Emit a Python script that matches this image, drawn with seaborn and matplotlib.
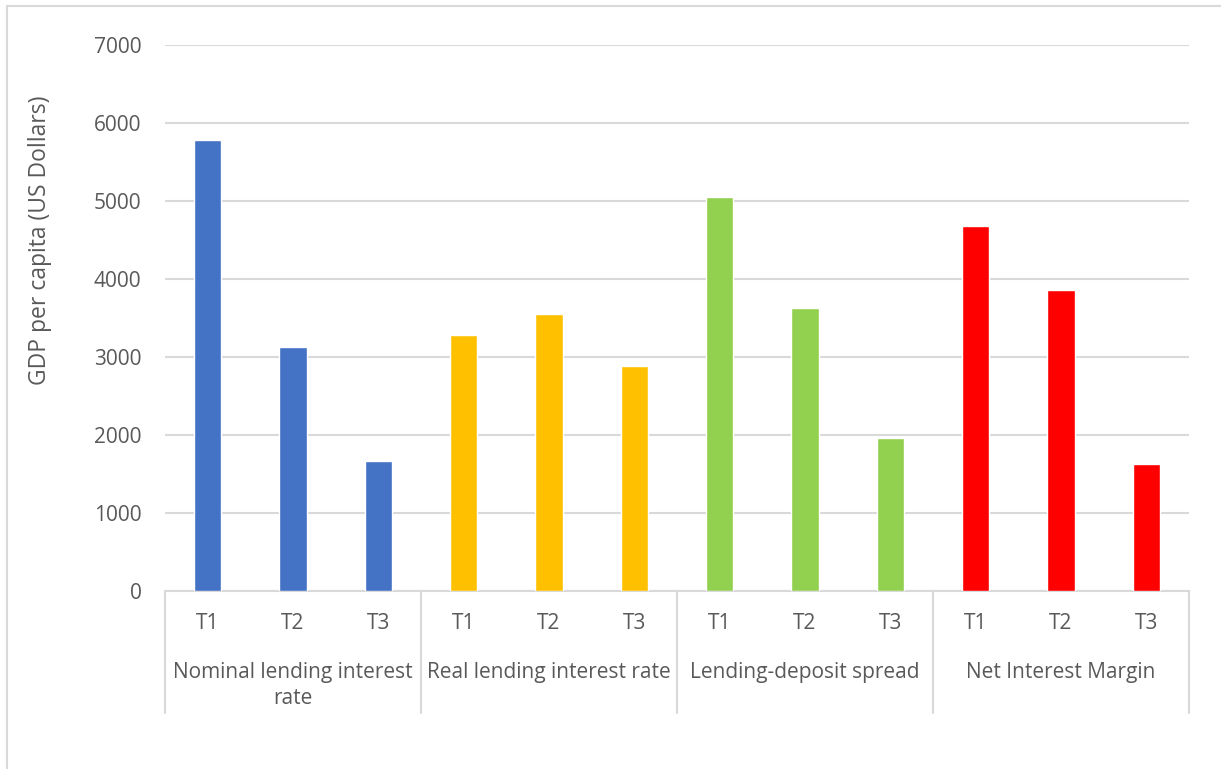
import matplotlib
matplotlib.use("Agg")
import matplotlib.pyplot as plt
import matplotlib.transforms as mtransforms
from matplotlib.lines import Line2D
import seaborn as sns
import pandas as pd

# Data
groups = ["Nominal lending interest rate", "Real lending interest rate",
          "Lending-deposit spread", "Net Interest Margin"]
group_labels = ["Nominal lending interest\nrate", "Real lending interest rate",
                "Lending-deposit spread", "Net Interest Margin"]
terciles = ["T1", "T2", "T3"]
nominal = [5780, 3130, 1670]
real = [3280, 3550, 2890]
spread = [5050, 3630, 1960]
nim = [4680, 3860, 1630]
colors = ["#4472C4", "#FFC000", "#92D050", "#FF0000"]
y_ticks = [0, 1000, 2000, 3000, 4000, 5000, 6000, 7000]

series = [nominal, real, spread, nim]
rows = []
for g, vals in zip(groups, series):
    for t, v in zip(terciles, vals):
        rows.append({"key": f"{g}|{t}", "group": g, "tercile": t, "value": v})
df = pd.DataFrame(rows)

sns.set_theme(style="white")
plt.rcParams["font.family"] = ["Open Sans", "DejaVu Sans"]
text_color = "#595959"
grid_color = "#D9D9D9"
fs = 15

W, H = 1221, 769
fig = plt.figure(figsize=(W / 100, H / 100), dpi=100)
ax = fig.add_axes([165 / W, 1 - 591 / H, (1189 - 165) / W, (591 - 45) / H])

sns.barplot(data=df, x="key", y="value", hue="group", order=df["key"].tolist(),
            hue_order=groups, palette=colors, dodge=False, width=0.32,
            saturation=1, legend=False, ax=ax, zorder=3)

ax.set_xlim(-0.5, len(df) - 0.5)
ax.set_ylim(0, 7000)
ax.set_yticks(y_ticks)
ax.set_yticklabels([str(v) for v in y_ticks])
ax.yaxis.grid(True, color=grid_color, linewidth=1.5, zorder=0)
ax.set_axisbelow(True)
for side in ["left", "right", "top"]:
    ax.spines[side].set_visible(False)
ax.spines["bottom"].set_color(grid_color)
ax.spines["bottom"].set_linewidth(1.5)

ax.set_xticks(range(len(df)))
ax.set_xticklabels(df["tercile"].tolist())
ax.tick_params(axis="x", length=0, pad=16, labelsize=fs, labelcolor=text_color)
ax.tick_params(axis="y", length=0, pad=17, labelsize=fs, labelcolor=text_color)
ax.set_xlabel("")
ax.set_ylabel("")

# Category separators and group labels beneath the tick labels
trans = mtransforms.blended_transform_factory(ax.transData, ax.transAxes)
ax_h = 591 - 45
sep_bottom = -(713 - 591) / ax_h
for b in [-0.5, 2.5, 5.5, 8.5, 11.5]:
    ax.add_line(Line2D([b, b], [0, sep_bottom], transform=trans, color=grid_color,
                       linewidth=1.5, clip_on=False))
for i, lab in enumerate(group_labels):
    ax.text(3 * i + 1, -(662 - 591) / ax_h, lab, transform=trans, ha="center",
            va="top", fontsize=fs, color=text_color, linespacing=1.3)

fig.text(40 / W, 1 - 240 / H, "GDP per capita (US Dollars)", rotation=90,
         ha="center", va="center", fontsize=16.5, color=text_color)

# Outer chart border (left and top edges)
fig.add_artist(Line2D([7 / W, 7 / W], [0, 1 - 6 / H], transform=fig.transFigure,
                      color=grid_color, linewidth=1.5))
fig.add_artist(Line2D([7 / W, 1], [1 - 6 / H, 1 - 6 / H], transform=fig.transFigure,
                      color=grid_color, linewidth=1.5))

fig.savefig("out.png", dpi=100, facecolor="white")
